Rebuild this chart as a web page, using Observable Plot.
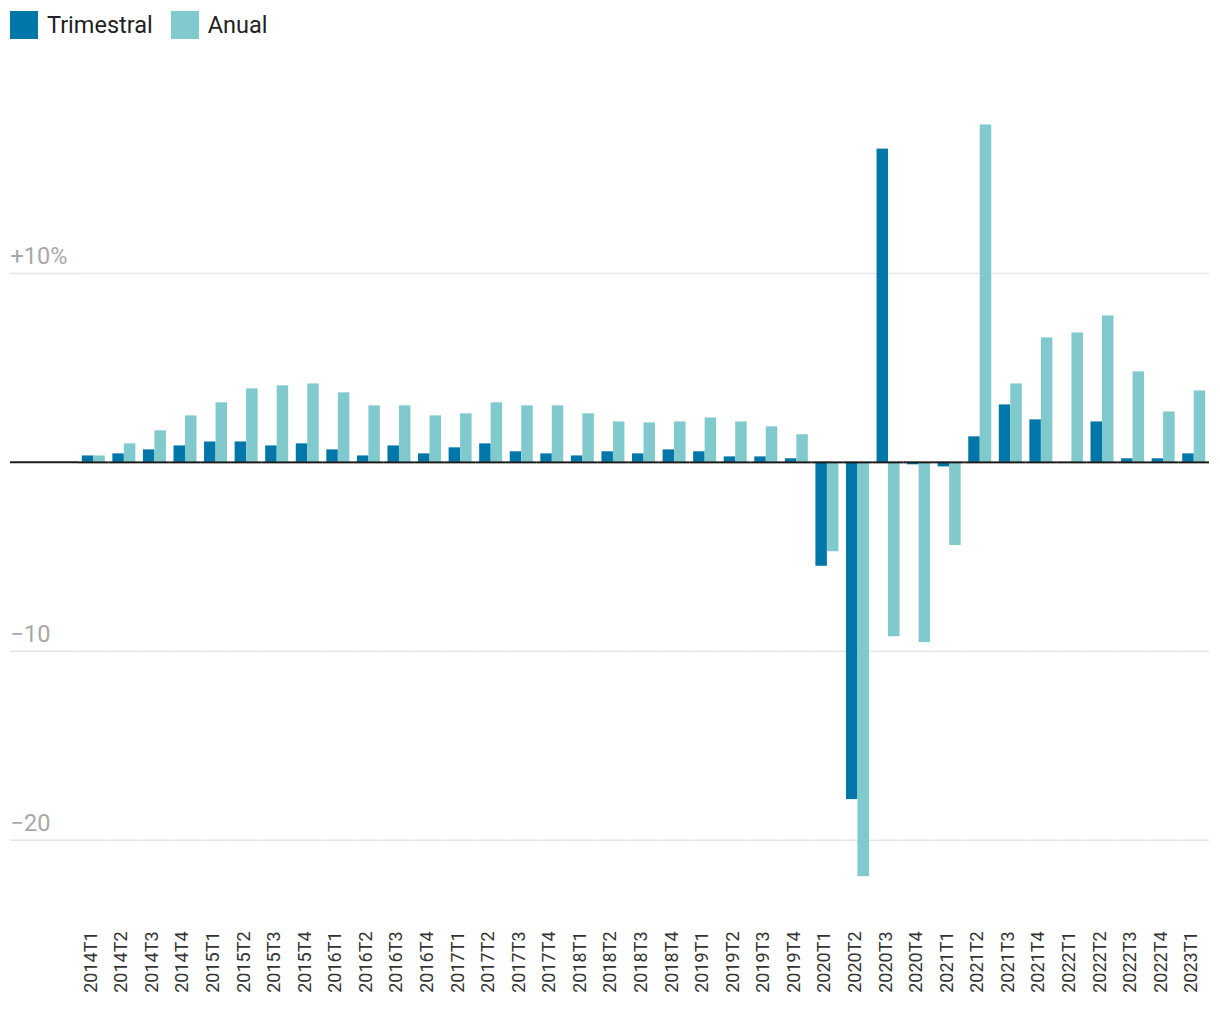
<!DOCTYPE html>
<html><head><meta charset="utf-8">
<script src="https://cdn.jsdelivr.net/npm/d3@7"></script>
<script src="https://cdn.jsdelivr.net/npm/@observablehq/plot@0.6"></script>
<style>
body{margin:0;background:#fff;font-family:Roboto,sans-serif;}
#legend{height:50px;display:flex;align-items:center;padding-left:10px;box-sizing:border-box;}
.item{display:flex;align-items:center;margin-right:18px;font-size:23.5px;color:#222;}
.sw{width:28px;height:28px;margin-right:9px;}
#chart svg{display:block;}
</style></head><body>
<div id="legend"></div><div id="chart"></div>
<script>
const quarters = ["2014T1","2014T2","2014T3","2014T4","2015T1","2015T2","2015T3","2015T4","2016T1","2016T2","2016T3","2016T4","2017T1","2017T2","2017T3","2017T4","2018T1","2018T2","2018T3","2018T4","2019T1","2019T2","2019T3","2019T4","2020T1","2020T2","2020T3","2020T4","2021T1","2021T2","2021T3","2021T4","2022T1","2022T2","2022T3","2022T4","2023T1"];
const trimestral = [0.34,0.45,0.66,0.87,1.08,1.08,0.87,0.98,0.66,0.34,0.87,0.45,0.77,0.98,0.56,0.45,0.34,0.56,0.45,0.66,0.56,0.29,0.29,0.19,-5.5,-17.85,16.58,-0.13,-0.24,1.35,3.04,2.25,0,2.14,0.19,0.19,0.45];
const anual = [0.34,0.98,1.67,2.46,3.15,3.89,4.05,4.15,3.68,2.99,2.99,2.46,2.57,3.15,2.99,2.99,2.57,2.14,2.09,2.14,2.35,2.14,1.88,1.46,-4.73,-21.93,-9.23,-9.54,-4.4,17.86,4.15,6.59,6.85,7.75,4.79,2.67,3.78];
const series = ["Trimestral","Anual"];
const colors = ["#0077a8","#80c9cc"];
const yTicks = [10,-10,-20];
const yTickLabels = ["+10%","\u221210","\u221220"];

const rows = quarters.flatMap((q,i)=>[{q, s:"Trimestral", v:trimestral[i]},{q, s:"Anual", v:anual[i]}]);

const legend = document.getElementById("legend");
series.forEach((s,i)=>{
  const it = document.createElement("div"); it.className="item";
  const sw = document.createElement("span"); sw.className="sw"; sw.style.background=colors[i];
  const t = document.createElement("span"); t.textContent=s;
  it.append(sw,t); legend.append(it);
});

const chart = Plot.plot({
  width:1220, height:970, marginTop:34, marginBottom:94, marginLeft:78, marginRight:11,
  style:{fontFamily:"Roboto, sans-serif", background:"#fff"},
  fx:{domain:quarters, paddingInner:0, paddingOuter:0, round:false, axis:null},
  x:{domain:series, paddingInner:0, paddingOuter:0.33, round:false, axis:null},
  y:{domain:[-24.566,20], axis:null},
  color:{domain:series, range:colors},
  marks:[
    Plot.ruleY(yTicks,{stroke:"#e6e6e6", strokeWidth:1.5}),
    Plot.axisY(yTicks,{anchor:"left", label:null, tickSize:68, stroke:"#e6e6e6", strokeWidth:1.5, tickFormat:()=>""}),
    Plot.axisY(yTicks,{anchor:"left", label:null, tickSize:0, tickPadding:68,
      fill:"#a8a8a8", fontSize:23.5, textAnchor:"start", lineAnchor:"bottom", dy:-9,
      tickFormat:d=>yTickLabels[yTicks.indexOf(d)]}),
    Plot.barY(rows,{fx:"q", x:"s", y:"v", fill:"s"}),
    Plot.ruleY([0],{stroke:"#1a1a1a", strokeWidth:2}),
    Plot.axisY([0],{anchor:"left", label:null, tickSize:68, stroke:"#1a1a1a", strokeWidth:2, tickFormat:()=>""}),
    Plot.text(quarters,{fx:d=>d, text:d=>d, frameAnchor:"bottom", rotate:-90, textAnchor:"end", lineAnchor:"bottom", dx:3, dy:5, fontSize:18, fill:"#333"})
  ]
});
document.getElementById("chart").append(chart);
</script>
</body></html>
